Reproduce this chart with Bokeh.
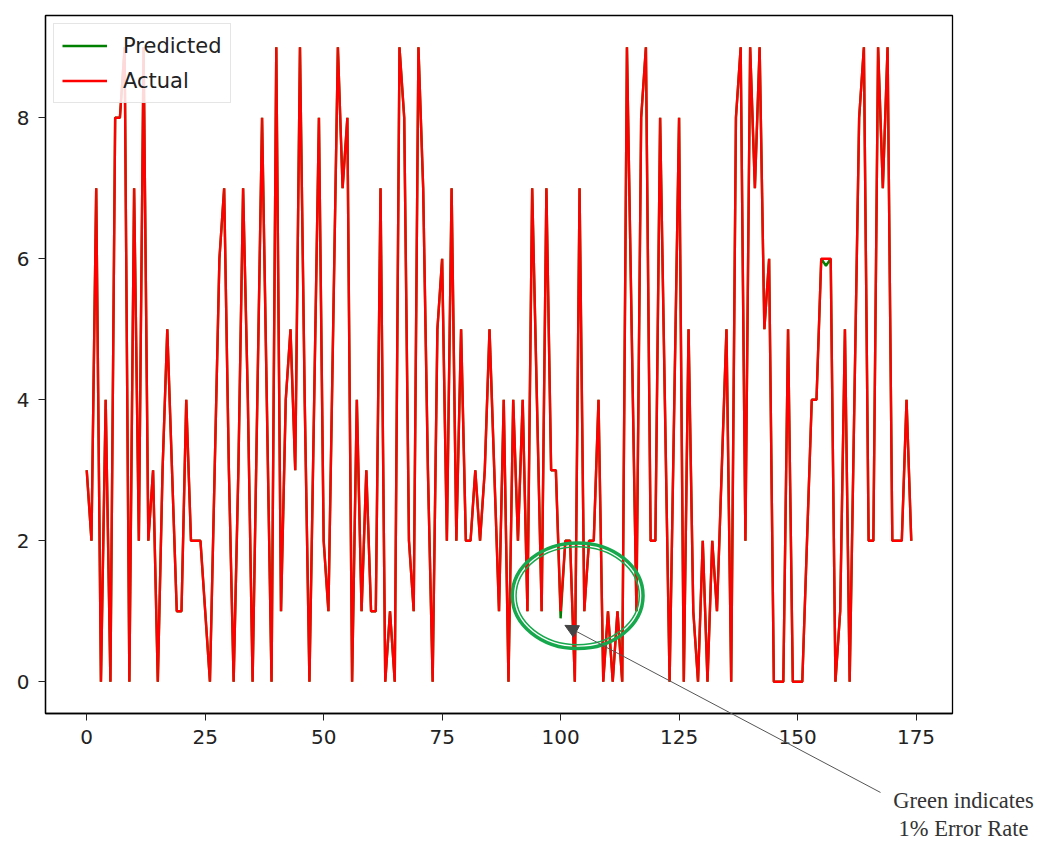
from bokeh.plotting import figure
from bokeh.layouts import column
from bokeh.models import Range1d, FixedTicker, Legend, LegendItem, Label, Arrow, NormalHead
from bokeh.embed import file_html
from bokeh.resources import INLINE

# ---------------- data ----------------
index = list(range(175))

actual = [3, 2, 7, 0, 4, 0, 8, 8, 9, 0,
          7, 2, 9, 2, 3, 0, 3, 5, 3, 1,
          1, 4, 2, 2, 2, 1, 0, 3, 6, 7,
          3, 0, 3, 7, 4, 0, 4, 8, 4, 0,
          9, 1, 4, 5, 3, 9, 4, 0, 4, 8,
          2, 1, 5, 9, 7, 8, 0, 4, 1, 3,
          1, 1, 7, 0, 1, 0, 9, 8, 2, 1,
          9, 7, 3, 0, 5, 6, 2, 7, 2, 5,
          2, 2, 3, 2, 3, 5, 3, 1, 4, 0,
          4, 2, 4, 1, 7, 4, 1, 7, 3, 3,
          1, 2, 2, 0, 7, 1, 2, 2, 4, 0,
          1, 0, 1, 0, 9, 5, 1, 8, 9, 2,
          2, 8, 4, 0, 4, 8, 0, 5, 1, 0,
          2, 0, 2, 1, 3, 5, 0, 8, 9, 2,
          9, 7, 9, 5, 6, 0, 0, 0, 5, 0,
          0, 0, 2, 4, 4, 6, 6, 6, 0, 1,
          5, 0, 4, 8, 9, 2, 2, 9, 7, 9,
          2, 2, 2, 4, 2]

predicted = [3, 2, 7, 0, 4, 0, 8, 8, 9, 0,
             7, 2, 9, 2, 3, 0, 3, 5, 3, 1,
             1, 4, 2, 2, 2, 1, 0, 3, 6, 7,
             3, 0, 3, 7, 4, 0, 4, 8, 4, 0,
             9, 1, 4, 5, 3, 9, 4, 0, 4, 8,
             2, 1, 5, 9, 7, 8, 0, 4, 1, 3,
             1, 1, 7, 0, 1, 0, 9, 8, 2, 1,
             9, 7, 3, 0, 5, 6, 2, 7, 2, 5,
             2, 2, 3, 2, 3, 5, 3, 1, 4, 0,
             4, 2, 4, 1, 7, 4, 1, 7, 3, 3,
             0.9, 2, 2, 0, 7, 1, 2, 2, 4, 0,
             1, 0, 1, 0, 9, 5, 1, 8, 9, 2,
             2, 8, 4, 0, 4, 8, 0, 5, 1, 0,
             2, 0, 2, 1, 3, 5, 0, 8, 9, 2,
             9, 7, 9, 5, 6, 0, 0, 0, 5, 0,
             0, 0, 2, 4, 4, 6, 5.9, 6, 0, 1,
             5, 0, 4, 8, 9, 2, 2, 9, 7, 9,
             2, 2, 2, 4, 2]

x_ticks = [0, 25, 50, 75, 100, 125, 150, 175]
y_ticks = [0, 2, 4, 6, 8]
series_names = ["Predicted", "Actual"]
note_lines = ["Green indicates", "1% Error Rate"]

# ---------------- main figure ----------------
p1 = figure(width=1041, height=843, output_backend="svg", toolbar_location=None,
            x_range=Range1d(-8.7, 182.7), y_range=Range1d(-0.45, 9.45),
            min_border_left=45, min_border_right=89, min_border_top=15, min_border_bottom=130)
p1.background_fill_color = "white"
p1.border_fill_color = "white"
p1.outline_line_color = "black"
p1.outline_line_width = 1.3
p1.grid.visible = False

for ax in (p1.xaxis[0], p1.yaxis[0]):
    ax.axis_line_color = "black"
    ax.axis_line_width = 1.3
    ax.major_tick_in = 0
    ax.major_tick_out = 7
    ax.major_tick_line_color = "#222222"
    ax.minor_tick_line_color = None
    ax.major_label_text_font = "DejaVu Sans"
    ax.major_label_text_font_size = "20px"
    ax.major_label_text_color = "#222222"
p1.xaxis.ticker = FixedTicker(ticks=x_ticks)
p1.yaxis.ticker = FixedTicker(ticks=y_ticks)
p1.xaxis.major_label_standoff = 9
p1.yaxis.major_label_standoff = 9

r_pred = p1.line(index, predicted, line_color="#008000", line_width=2.4)
r_act = p1.line(index, actual, line_color="#ff0000", line_width=2.4)

legend = Legend(items=[LegendItem(label=series_names[0], renderers=[r_pred]),
                       LegendItem(label=series_names[1], renderers=[r_act])],
                location="top_left")
legend.margin = 8
legend.padding = 8
legend.spacing = 8
legend.glyph_width = 45
legend.glyph_height = 27
legend.label_height = 27
legend.label_standoff = 16
legend.label_text_font = "DejaVu Sans"
legend.label_text_font_size = "21px"
legend.label_text_color = "#222222"
legend.border_line_color = "#cccccc"
legend.border_line_width = 1
legend.background_fill_alpha = 0.85
p1.add_layout(legend)

# highlight ellipse (double green ring)
p1.ellipse(x=[103.6], y=[1.22], width=[27.6], height=[1.5], fill_color=None,
           line_color="#16a84c", line_width=3.5)
p1.ellipse(x=[103.6], y=[1.22], width=[26.0], height=[1.39], fill_color=None,
           line_color="#16a84c", line_width=1.5)

# ---------------- transparent overlay for the call-out ----------------
# same data mapping as the main frame, extended to the whole canvas
p2 = figure(width=1041, height=843, output_backend="svg", toolbar_location=None,
            x_range=Range1d(-18.195, 201.46), y_range=Range1d(-2.294, 9.663),
            x_axis_type=None, y_axis_type=None,
            min_border_left=0, min_border_right=0, min_border_top=0, min_border_bottom=0,
            margin=(-843, 0, 0, 0))
if "frame_align" in p2.properties():
    p1.frame_align = False
    p2.frame_align = False
p2.background_fill_alpha = 0
p2.border_fill_alpha = 0
p2.outline_line_color = None
p2.grid.visible = False

p2.add_layout(Arrow(end=NormalHead(size=13, fill_color="#444444", line_color="#444444"),
                    x_start=167.49, y_start=-1.570, x_end=100.9, y_end=0.80,
                    line_color="#555555", line_width=1))
p2.add_layout(Label(x=185.0, y=-1.684, text=note_lines[0], text_align="center",
                    text_baseline="middle", text_font="Liberation Serif",
                    text_font_size="22.5px", text_color="#333333"))
p2.add_layout(Label(x=185.0, y=-2.081, text=note_lines[1], text_align="center",
                    text_baseline="middle", text_font="Liberation Serif",
                    text_font_size="22.5px", text_color="#333333"))

layout = column(p1, p2)
open("out.html", "w").write(file_html(layout, INLINE))
